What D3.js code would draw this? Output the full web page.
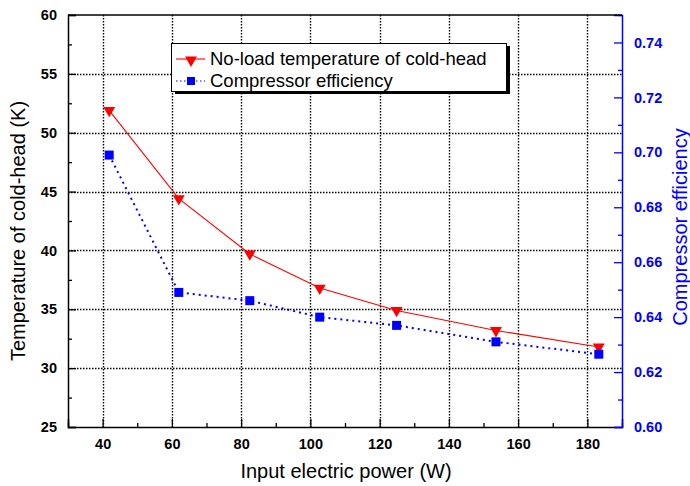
<!DOCTYPE html>
<html><head><meta charset="utf-8">
<script src="https://cdn.jsdelivr.net/npm/d3@7"></script>
<style>body{margin:0;background:#fff}svg{display:block}</style>
</head><body>
<script>
const power = [41.9, 62.0, 82.5, 102.7, 124.9, 153.6, 183.3];
const temperature = [51.9, 44.4, 39.7, 36.8, 34.9, 33.2, 31.8];
const efficiency = [0.699, 0.649, 0.646, 0.640, 0.637, 0.631, 0.6265];
const xTicks = [40, 60, 80, 100, 120, 140, 160, 180];
const yLeftTicks = [25, 30, 35, 40, 45, 50, 55, 60];
const yRightTicks = [0.60, 0.62, 0.64, 0.66, 0.68, 0.70, 0.72, 0.74];
const seriesNames = ["No-load temperature of cold-head", "Compressor efficiency"];

const W = 690, H = 486;
const m = {l: 68, r: 622, t: 15, b: 427};
const svg = d3.select("body").append("svg").attr("width", W).attr("height", H);
const font = "Liberation Sans, Arial, sans-serif";

const x = d3.scaleLinear().domain([30, 190]).range([m.l, m.r]);
const yL = d3.scaleLinear().domain([25, 60]).range([m.b, m.t]);
const yR = d3.scaleLinear().domain([0.60, 0.75]).range([m.b, m.t]);

// grid
const g = svg.append("g");
g.selectAll(".gx").data(xTicks).enter().append("line")
  .attr("x1", d => Math.round(x(d)) + 0.5).attr("x2", d => Math.round(x(d)) + 0.5).attr("y1", m.t).attr("y2", m.b)
  .attr("stroke", "#000").attr("stroke-width", 1.4).attr("stroke-dasharray", "1.5,1.5");
g.selectAll(".gy").data(yLeftTicks.filter(d => d > 25 && d < 60)).enter().append("line")
  .attr("y1", d => Math.round(yL(d)) + 0.5).attr("y2", d => Math.round(yL(d)) + 0.5).attr("x1", m.l).attr("x2", m.r)
  .attr("stroke", "#000").attr("stroke-width", 1.4).attr("stroke-dasharray", "1.5,1.5");

// axes
const xAxis = d3.axisBottom(x).tickValues(xTicks).tickSize(-8).tickPadding(12).tickFormat(d3.format("d"));
const xMinor = d3.axisBottom(x).tickValues(d3.range(30, 191, 10).filter(d => xTicks.indexOf(d) < 0)).tickSize(-4).tickFormat("");
const ax = svg.append("g").attr("transform", `translate(0,${m.b})`).call(xAxis);
const axm = svg.append("g").attr("transform", `translate(0,${m.b})`).call(xMinor);
axm.select(".domain").remove();

const yAxis = d3.axisLeft(yL).tickValues(yLeftTicks).tickSize(-8).tickPadding(11).tickFormat(d3.format("d"));
const yMinor = d3.axisLeft(yL).tickValues(d3.range(27.5, 60, 5)).tickSize(-4).tickFormat("");
const ay = svg.append("g").attr("transform", `translate(${m.l},0)`).call(yAxis);
const aym = svg.append("g").attr("transform", `translate(${m.l},0)`).call(yMinor);
aym.select(".domain").remove();

const yRAxis = d3.axisRight(yR).tickValues(yRightTicks).tickSize(-8).tickPadding(12).tickFormat(d3.format(".2f"));
const yRMinor = d3.axisRight(yR).tickValues(d3.range(0.61, 0.755, 0.02)).tickSize(-4).tickFormat("");
const ar = svg.append("g").attr("transform", `translate(${m.r},0)`).call(yRAxis);
const arm = svg.append("g").attr("transform", `translate(${m.r},0)`).call(yRMinor);
arm.select(".domain").remove();

// top border
svg.append("line").attr("x1", m.l).attr("x2", m.r).attr("y1", m.t).attr("y2", m.t).attr("stroke", "#000").attr("stroke-width", 1.5);

[ax, ay, axm, aym].forEach(a => {
  a.select(".domain").attr("stroke", "#000").attr("stroke-width", 1.5);
  a.selectAll(".tick line").attr("stroke", "#000").attr("stroke-width", 1.3);
  a.selectAll("text").attr("font-family", font).attr("font-size", 14.5).attr("font-weight", "bold").attr("fill", "#000");
});
[ar, arm].forEach(a => {
  a.select(".domain").attr("stroke", "#0000ff").attr("stroke-width", 1.5);
  a.selectAll(".tick line").attr("stroke", "#0000ff").attr("stroke-width", 1.3);
  a.selectAll("text").attr("font-family", font).attr("font-size", 14.5).attr("font-weight", "bold").attr("fill", "#0000ff");
});
ax.selectAll("text").attr("dy", "0.71em");

// lines
const tData = power.map((p, i) => [p, temperature[i]]);
const eData = power.map((p, i) => [p, efficiency[i]]);
svg.append("path").datum(tData)
  .attr("d", d3.line().x(d => x(d[0])).y(d => yL(d[1])))
  .attr("fill", "none").attr("stroke", "#ff0000").attr("stroke-width", 1.1);
svg.append("path").datum(eData)
  .attr("d", d3.line().x(d => x(d[0])).y(d => yR(d[1])))
  .attr("fill", "none").attr("stroke", "#0000ff").attr("stroke-width", 2).attr("stroke-dasharray", "2,4");

const tri = d3.symbol().type(d3.symbolTriangle).size(62);
svg.selectAll(".tri").data(tData).enter().append("path")
  .attr("d", tri).attr("transform", d => `translate(${x(d[0])},${yL(d[1])}) rotate(180)`)
  .attr("fill", "#ff0000");
svg.selectAll(".sq").data(eData).enter().append("rect")
  .attr("x", d => x(d[0]) - 4.5).attr("y", d => yR(d[1]) - 4.5).attr("width", 9).attr("height", 9)
  .attr("fill", "#0000ff");

// legend
const lg = svg.append("g");
lg.append("rect").attr("x", 175).attr("y", 46).attr("width", 335).attr("height", 48).attr("fill", "#000");
lg.append("rect").attr("x", 171.5).attr("y", 43.5).attr("width", 335).attr("height", 48).attr("fill", "#fff").attr("stroke", "#000").attr("stroke-width", 1);
lg.append("line").attr("x1", 176).attr("x2", 205).attr("y1", 59).attr("y2", 59).attr("stroke", "#ff0000").attr("stroke-width", 1.1);
lg.append("path").attr("d", tri).attr("transform", "translate(191,60) rotate(180)").attr("fill", "#ff0000");
lg.append("line").attr("x1", 176).attr("x2", 205).attr("y1", 81).attr("y2", 81).attr("stroke", "#0000ff").attr("stroke-width", 1.2).attr("stroke-dasharray", "1.5,2.5");
lg.append("rect").attr("x", 187).attr("y", 77).attr("width", 8).attr("height", 8).attr("fill", "#0000ff");
lg.selectAll(".lt").data(seriesNames).enter().append("text")
  .attr("x", 210).attr("y", (d, i) => 65 + i * 22)
  .attr("font-family", font).attr("font-size", 18.5).attr("fill", "#000").text(d => d);

// titles
svg.append("text").attr("x", (m.l + m.r) / 2 + 1).attr("y", 478).attr("text-anchor", "middle")
  .attr("font-family", font).attr("font-size", 20).attr("fill", "#000").text("Input electric power (W)");
svg.append("text").attr("transform", `translate(25,${(m.t + m.b) / 2 + 10}) rotate(-90)`).attr("text-anchor", "middle")
  .attr("font-family", font).attr("font-size", 20).attr("fill", "#000").text("Temperature of cold-head (K)");
svg.append("text").attr("transform", `translate(687,${(m.t + m.b) / 2 + 6}) rotate(-90)`).attr("text-anchor", "middle")
  .attr("font-family", font).attr("font-size", 20).attr("fill", "#0000ff").text("Compressor efficiency");
</script>
</body></html>
